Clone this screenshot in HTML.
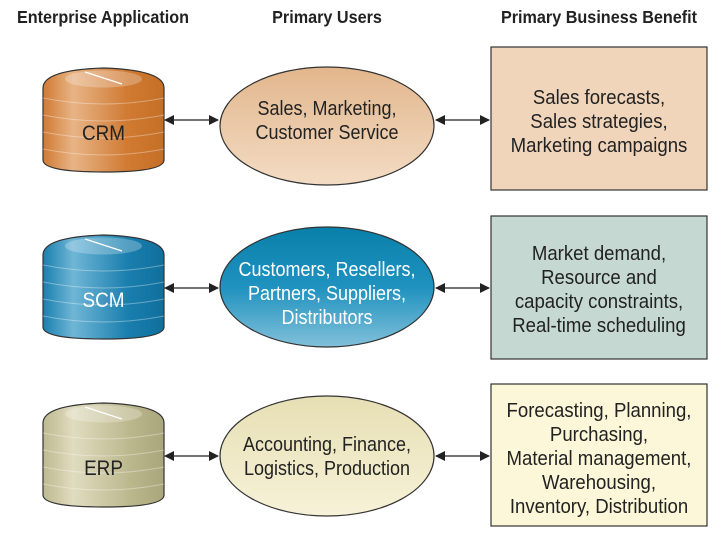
<!DOCTYPE html>
<html><head><meta charset="utf-8"><style>
body{margin:0;background:#fff;}
svg text{font-family:"Liberation Sans",sans-serif;}
</style></head><body>
<svg width="722" height="538" viewBox="0 0 722 538" xmlns="http://www.w3.org/2000/svg">
<defs>
<linearGradient id="cO" x1="0" x2="1"><stop offset="0" stop-color="#d07a32"/><stop offset=".25" stop-color="#e8b486"/><stop offset=".7" stop-color="#d07a32"/><stop offset="1" stop-color="#c46e26"/></linearGradient>
<linearGradient id="cB" x1="0" x2="1"><stop offset="0" stop-color="#1a7fae"/><stop offset=".25" stop-color="#6fb6d6"/><stop offset=".7" stop-color="#1a7fae"/><stop offset="1" stop-color="#0f6f9c"/></linearGradient>
<linearGradient id="cK" x1="0" x2="1"><stop offset="0" stop-color="#bdb98f"/><stop offset=".25" stop-color="#e0dcc0"/><stop offset=".7" stop-color="#bdb98f"/><stop offset="1" stop-color="#aaa67c"/></linearGradient>
<linearGradient id="eO" x1="0" y1="0" x2="0" y2="1"><stop offset="0" stop-color="#e2b68c"/><stop offset="1" stop-color="#f3dcc4"/></linearGradient>
<linearGradient id="eB" x1="0" y1="0" x2="0" y2="1"><stop offset="0" stop-color="#0880aa"/><stop offset=".5" stop-color="#1f92bf"/><stop offset="1" stop-color="#82c0da"/></linearGradient>
<linearGradient id="eK" x1="0" y1="0" x2="0" y2="1"><stop offset="0" stop-color="#e6dfb4"/><stop offset="1" stop-color="#f7f2d8"/></linearGradient>
<marker id="ah" markerWidth="10" markerHeight="10" refX="9" refY="5" orient="auto-start-reverse" markerUnits="userSpaceOnUse"><path d="M0,0 L10,5 L0,10 z" fill="#222"/></marker>
<g id="cyl">
<path d="M43,88 Q43,70 103.5,68 Q164,70 164,88 L164,160 Q164,172 103.5,172 Q43,172 43,160 Z" stroke="#333" stroke-width="1.2"/>
<ellipse cx="103.5" cy="79" rx="38" ry="8" fill="#fff" opacity=".25" stroke="#fff" stroke-width="1"/>
<line x1="85" y1="72" x2="122" y2="84" stroke="#fff" stroke-width="1.2"/>
<g stroke="#fff" stroke-opacity=".35" fill="none"><path d="M43,98 Q103,110 164,98"/><path d="M43,115 Q103,127 164,115"/><path d="M43,132 Q103,144 164,132"/><path d="M43,149 Q103,161 164,149"/></g>
</g>
</defs>
<g font-weight="bold" font-size="18" fill="#222" text-anchor="middle">
<g transform="translate(103,23) scale(0.9,1)"><text x="0" y="0">Enterprise Application</text></g>
<g transform="translate(327,23) scale(0.9,1)"><text x="0" y="0">Primary Users</text></g>
<g transform="translate(599,23) scale(0.9,1)"><text x="0" y="0">Primary Business Benefit</text></g>
</g>
<use href="#cyl" fill="url(#cO)"/>
<use href="#cyl" fill="url(#cB)" y="167"/>
<use href="#cyl" fill="url(#cK)" y="335"/>
<g font-size="21" text-anchor="middle" fill="#222">
<g transform="translate(103.5,0) scale(0.9,1)">
<text x="0" y="140">CRM</text>
<text x="0" y="307" fill="#fff">SCM</text>
<text x="0" y="475">ERP</text>
</g></g>
<g stroke="#222" stroke-width="1.2" marker-start="url(#ah)" marker-end="url(#ah)">
<line x1="165" y1="120" x2="218" y2="120"/><line x1="436" y1="120" x2="489" y2="120"/>
<line x1="165" y1="288" x2="218" y2="288"/><line x1="436" y1="288" x2="489" y2="288"/>
<line x1="165" y1="456" x2="218" y2="456"/><line x1="436" y1="456" x2="489" y2="456"/>
</g>
<g stroke="#333" stroke-width="1.2">
<ellipse cx="327" cy="126" rx="107" ry="59" fill="url(#eO)"/>
<ellipse cx="327" cy="287" rx="107" ry="60" fill="url(#eB)"/>
<ellipse cx="327" cy="456" rx="107" ry="60" fill="url(#eK)"/>
<rect x="491" y="47" width="216" height="143" fill="#f0d5bb"/>
<rect x="491" y="216" width="216" height="143" fill="#c6d8d2"/>
<rect x="491" y="384" width="216" height="142" fill="#fcf7d8"/>
</g>
<g font-size="20" text-anchor="middle" fill="#222">
<g transform="translate(327,0) scale(0.9,1)">
<text x="0" y="115">Sales, Marketing,</text><text x="0" y="139">Customer Service</text>
<g fill="#fff"><text x="0" y="276">Customers, Resellers,</text><text x="0" y="300">Partners, Suppliers,</text><text x="0" y="324">Distributors</text></g>
<text x="0" y="451">Accounting, Finance,</text><text x="0" y="475">Logistics, Production</text>
</g>
<g transform="translate(599,0) scale(0.93,1)">
<text x="0" y="104">Sales forecasts,</text><text x="0" y="128">Sales strategies,</text><text x="0" y="152">Marketing campaigns</text>
<text x="0" y="260">Market demand,</text><text x="0" y="284">Resource and</text><text x="0" y="308">capacity constraints,</text><text x="0" y="332">Real-time scheduling</text>
<text x="0" y="417">Forecasting, Planning,</text><text x="0" y="441">Purchasing,</text><text x="0" y="465">Material management,</text><text x="0" y="489">Warehousing,</text><text x="0" y="513">Inventory, Distribution</text>
</g>
</g>
</svg>
</body></html>
